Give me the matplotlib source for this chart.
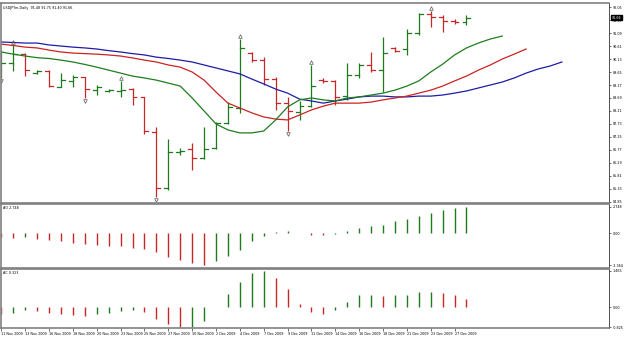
import numpy as np
import matplotlib
matplotlib.use("Agg")
import matplotlib.pyplot as plt
import matplotlib.transforms as mtransforms

# USDJPYm daily bars, 11 Nov 2009 .. 28 Dec 2009
opens = [89.72, 89.98, 90.31, 89.61, 89.70, 89.11, 89.32, 89.45, 88.98, 88.95,
         88.95, 89.02, 88.73, 87.43, 85.37, 86.70, 86.81, 86.47, 86.84, 87.76,
         88.32, 90.35, 90.09, 89.39, 88.50, 88.17, 88.39, 89.35, 89.32, 88.76,
         89.54, 89.91, 89.72, 90.54, 90.50, 91.09, 91.81, 91.68, 91.53, 91.48]
highs = [90.46, 90.65, 90.35, 89.74, 89.72, 89.61, 89.54, 89.46, 89.17, 89.04,
         89.32, 89.06, 88.73, 87.62, 87.18, 86.84, 87.03, 87.62, 87.80, 88.54,
         90.87, 90.39, 90.20, 89.46, 88.73, 88.58, 89.91, 89.43, 89.35, 89.98,
         89.98, 90.39, 90.94, 90.57, 91.24, 91.83, 91.90, 91.75, 91.61, 91.75]
lows = [89.43, 89.69, 89.50, 89.57, 89.10, 89.10, 89.10, 88.69, 88.80, 88.91,
        88.73, 88.43, 87.36, 85.03, 85.29, 86.58, 86.03, 86.44, 86.81, 87.73,
        88.13, 90.02, 89.17, 88.25, 87.47, 87.88, 88.36, 89.24, 88.43, 88.62,
        89.43, 89.65, 88.91, 90.39, 90.28, 91.02, 91.31, 91.13, 91.42, 91.40]
closes = [89.98, 90.31, 89.72, 89.70, 89.13, 89.35, 89.46, 89.02, 89.09, 88.98,
          89.00, 88.73, 87.47, 85.37, 86.70, 86.73, 86.47, 86.81, 87.76, 88.36,
          90.54, 90.09, 89.39, 88.50, 88.21, 88.39, 89.13, 89.32, 88.73, 89.54,
          89.91, 89.72, 90.35, 90.43, 91.09, 91.79, 91.68, 91.53, 91.50, 91.66]

# alligator lines (already shifted forward: jaw 8, teeth 5, lips 3 bars)
jaw = [90.76, 90.74, 90.72, 90.72, 90.65, 90.61, 90.57, 90.54, 90.50, 90.44,
       90.39, 90.33, 90.28, 90.20, 90.15, 90.09, 90.02, 89.91, 89.80, 89.69,
       89.58, 89.39, 89.21, 89.02, 88.87, 88.65, 88.58, 88.50, 88.58, 88.65,
       88.73, 88.76, 88.76, 88.73, 88.73, 88.76, 88.76, 88.80, 88.87, 88.95,
       89.06, 89.17, 89.28, 89.43, 89.61, 89.76, 89.87, 90.02]
teeth = [90.68, 90.63, 90.57, 90.54, 90.46, 90.39, 90.35, 90.33, 90.31, 90.28,
         90.24, 90.17, 90.09, 90.02, 89.91, 89.83, 89.65, 89.35, 88.91, 88.50,
         88.32, 88.14, 87.99, 87.91, 87.88, 88.06, 88.25, 88.39, 88.50, 88.50,
         88.50, 88.54, 88.62, 88.69, 88.76, 88.87, 88.98, 89.13, 89.32, 89.50,
         89.72, 89.91, 90.13, 90.31, 90.50]
lips = [90.39, 90.31, 90.24, 90.18, 90.15, 90.09, 90.02, 89.93, 89.83, 89.72,
        89.61, 89.50, 89.43, 89.35, 89.24, 89.13, 88.69, 88.21, 87.73, 87.51,
        87.40, 87.40, 87.47, 87.88, 88.36, 88.62, 88.69, 88.62, 88.58, 88.69,
        88.73, 88.80, 88.87, 88.98, 89.13, 89.32, 89.65, 89.94, 90.28, 90.54,
        90.72, 90.87, 90.98]

fractal_up = [1, 10, 20, 26, 36]
fractal_down = [0, 7, 13, 24]

ao = [-0.44, -0.47, -0.41, -0.61, -0.71, -0.85, -1.02, -1.19, -1.29, -1.36,
      -1.39, -1.53, -1.63, -2.03, -2.47, -2.85, -3.15, -3.364, -2.98, -2.41,
      -1.73, -0.85, -0.27, 0.12, 0.25, 0.04, -0.17, -0.20, -0.12, 0.20,
      0.51, 0.75, 0.88, 1.22, 1.49, 1.76, 2.15, 2.42, 2.65, 2.748]
ac = [-0.27, -0.24, -0.13, -0.16, -0.23, -0.28, -0.33, -0.36, -0.27, -0.23,
      -0.16, -0.13, -0.20, -0.49, -0.70, -0.825, -0.81, -0.56, 0.02, 0.53,
      1.02, 1.40, 1.465, 1.20, 0.73, 0.13, -0.20, -0.27, -0.13, 0.20,
      0.47, 0.49, 0.43, 0.49, 0.50, 0.60, 0.62, 0.57, 0.47, 0.323]

price_ticks = [92.05, 91.57, 91.09, 90.61, 90.13, 89.65, 89.17, 88.69,
               88.21, 87.73, 87.25, 86.77, 86.29, 85.81, 85.33, 84.85]
date_labels = ["11 Nov 2009", "13 Nov 2009", "16 Nov 2009", "18 Nov 2009",
               "20 Nov 2009", "23 Nov 2009", "25 Nov 2009", "27 Nov 2009",
               "30 Nov 2009", "2 Dec 2009", "4 Dec 2009", "7 Dec 2009",
               "9 Dec 2009", "11 Dec 2009", "14 Dec 2009", "16 Dec 2009",
               "18 Dec 2009", "21 Dec 2009", "23 Dec 2009", "27 Dec 2009"]

GREEN = '#1f7a1f'
RED = '#c62828'
FS = 2.4

fig = plt.figure(figsize=(6.25, 3.38), dpi=100)
ax = fig.add_axes([0.0016, 0.3994, 0.9728, 0.5917])
ax_ao = fig.add_axes([0.0016, 0.2071, 0.9728, 0.1893], sharex=ax)
ax_ac = fig.add_axes([0.0016, 0.0296, 0.9728, 0.1745], sharex=ax)

n = len(closes)
x = np.arange(n)

# OHLC bars
for i in range(n):
    c = GREEN if closes[i] >= opens[i] else RED
    ax.plot([x[i], x[i]], [lows[i], highs[i]], color=c, lw=0.9, solid_capstyle='butt')
    ax.plot([x[i] - 0.33, x[i]], [opens[i], opens[i]], color=c, lw=0.9)
    ax.plot([x[i], x[i] + 0.33], [closes[i], closes[i]], color=c, lw=0.9)

ax.plot(np.arange(len(jaw)), jaw, color='#1c1ca8', lw=0.9)
ax.plot(np.arange(len(teeth)), teeth, color='#cc2222', lw=0.9)
ax.plot(np.arange(len(lips)), lips, color='#1e7d1e', lw=0.9)

# fractals
up_y = [highs[i] + 0.12 for i in fractal_up]
dn_y = [lows[i] - 0.12 for i in fractal_down]
ax.plot(fractal_up, up_y, ls='none', marker='^', ms=2.6, mfc='none', mec='#555555', mew=0.5)
ax.plot(fractal_down, dn_y, ls='none', marker='v', ms=2.6, mfc='none', mec='#555555', mew=0.5)

ax.set_ylim(84.81, 92.20)
ax.set_yticks(price_ticks)
ax.set_yticklabels(['%.2f' % p for p in price_ticks])
ax.text(0.004, 0.985, 'USDJPYm,Daily  %.2f %.2f %.2f %.2f' % (opens[-1], highs[-1], lows[-1], closes[-1]),
        transform=ax.transAxes, fontsize=FS, va='top', ha='left')

# current price box on the scale
trans = mtransforms.blended_transform_factory(ax.transAxes, ax.transData)
ax.text(1.004, closes[-1], '%.2f' % closes[-1], transform=trans, fontsize=FS, color='white',
        va='center', ha='left', clip_on=False, zorder=10,
        bbox=dict(boxstyle='square,pad=0.25', fc='black', ec='black'))

# AO histogram
ao_col = [GREEN if d > 0 else RED for d in np.diff(ao, prepend=ao[0])]
ax_ao.vlines(x, 0, ao, colors=ao_col, lw=1.0)
ax_ao.set_ylim(-3.675, 3.059)
ax_ao.set_yticks([max(ao), 0, min(ao)])
ax_ao.set_yticklabels(['%.3f' % max(ao), '0.00', '%.3f' % min(ao)])
ax_ao.text(0.004, 0.97, 'AO %.3f' % ao[-1], transform=ax_ao.transAxes, fontsize=FS, va='top')

# AC histogram
ac_col = [GREEN if d > 0 else RED for d in np.diff(ac, prepend=ac[0])]
ax_ac.vlines(x, 0, ac, colors=ac_col, lw=1.0)
ax_ac.set_ylim(-0.85, 1.545)
ax_ac.set_yticks([max(ac), 0, min(ac)])
ax_ac.set_yticklabels(['%.3f' % max(ac), '0.00', '%.3f' % min(ac)])
ax_ac.text(0.004, 0.97, 'AC %.3f' % ac[-1], transform=ax_ac.transAxes, fontsize=FS, va='top')

ax.set_xlim(-0.03, 50.95)
for a in (ax, ax_ao, ax_ac):
    a.yaxis.tick_right()
    a.tick_params(axis='y', labelsize=FS, length=1.5, width=0.4, pad=1)
    a.tick_params(axis='x', length=0, labelbottom=False)
    for s in ('top', 'bottom', 'left'):
        a.spines[s].set_color('#808080')
        a.spines[s].set_linewidth(1.2)
    a.spines['right'].set_color('#333333')
    a.spines['right'].set_linewidth(0.6)
    a.set_facecolor('white')

ax_ac.set_xticks(range(0, 40, 2))
ax_ac.set_xticklabels(date_labels)
ax_ac.tick_params(axis='x', labelbottom=True, labelsize=FS, length=2, width=0.4, pad=0.8, direction='out')
for lab in ax_ac.get_xticklabels():
    lab.set_ha('left')

fig.savefig("out.png", dpi=100)
